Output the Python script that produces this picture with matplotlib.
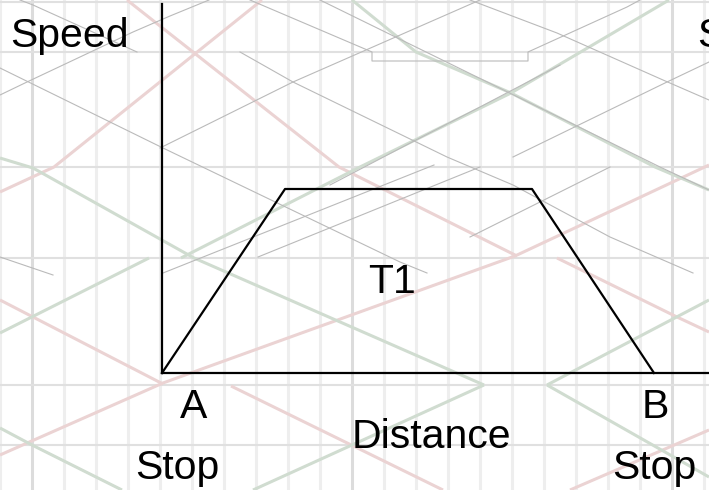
import matplotlib
matplotlib.use("Agg")
from matplotlib import pyplot as plt

# canvas in pixel units
W, H = 709, 490
DPI = 100

# background timetable grid
time_ticks = [0, 32, 64, 96, 128, 160, 192, 224, 256, 288, 320, 352, 384,
              416, 448, 480, 512, 544, 576, 608, 640, 672, 704]
hour_ticks = [32, 352, 672]
stations = [2, 52, 167, 258, 385, 445]

# background train paths: (times, positions)
grey_paths = [
    ([0, 163, 400, 427], [68, 148, 262, 273]),
    ([0, 27, 133, 170, 209], [95, 82, 32, 16, 0]),
    ([20, 33, 137], [0, 5, 52]),
    ([240, 293, 447, 513, 610, 693], [52, 82, 157, 185, 237, 273]),
    ([160, 293, 480], [148, 82, 0]),
    ([250, 372, 372, 528, 528, 627, 640], [0, 52, 61, 61, 52, 7, 0]),
    ([470, 557, 663, 709], [0, 33, 80, 100]),
    ([513, 667, 709], [157, 82, 62]),
    ([0, 53], [257, 275]),
    ([163, 434], [273, 165]),
    ([470, 610], [237, 167]),
    ([258, 480], [257, 167]),
    ([320, 581, 660, 709], [0, 128, 167, 190]),
    ([330, 416, 480, 560], [185, 140, 107, 65]),
]
pink_paths = [
    ([262, 54, 0], [0, 167, 192]),
    ([127, 339, 517], [0, 167, 256]),
    ([557, 677, 709], [258, 317, 332]),
    ([0, 163, 515, 709], [455, 383, 256, 165]),
    ([0, 163], [300, 384]),
    ([231, 443], [386, 490]),
    ([570, 709], [490, 430]),
]
green_paths = [
    ([352, 416, 511, 655, 709], [0, 52, 93, 167, 190]),
    ([0, 33, 194, 484], [158, 168, 258, 385]),
    ([547, 709], [385, 477]),
    ([253, 484], [490, 385]),
    ([547, 709], [385, 300]),
    ([0, 32, 122], [428, 445, 490]),
    ([0, 149], [333, 258]),
    ([181, 360, 511, 669], [258, 167, 93, 0]),
]

# speed profile A -> B
distance = [0, 123, 370, 492]
speed = [0, 184, 184, 0]

FONT = "Liberation Sans"
FS = 29.5

fig = plt.figure(figsize=(W / DPI, H / DPI), dpi=DPI)
fig.patch.set_facecolor("white")

bg = fig.add_axes([0, 0, 1, 1])
bg.set_xlim(0, W)
bg.set_ylim(H, 0)
bg.axis("off")

for t in time_ticks:
    c = "#dcdcdc" if t in hour_ticks else "#eeeeee"
    bg.axvline(t, color=c, lw=2.2, zorder=1)

for xs, ys in pink_paths:
    bg.plot(xs, ys, color="#ebd3d3", lw=2.2, zorder=3, solid_capstyle="butt")
for xs, ys in green_paths:
    bg.plot(xs, ys, color="#d0dcd0", lw=2.2, zorder=3, solid_capstyle="butt")
for xs, ys in grey_paths:
    bg.plot(xs, ys, color="#bababa", lw=0.8, zorder=4)

for s in stations:
    bg.axhline(s, color="#e0e0e0", lw=1.5, zorder=2)

# labels
txt = dict(fontsize=FS, family=FONT, color="black", va="baseline", zorder=10)
bg.text(10, 47, "Speed", ha="left", **txt)
bg.text(697, 47, "Speed", ha="left", **txt)
bg.text(392, 293, "T1", ha="center", **txt)
bg.text(194, 418, "A", ha="center", **txt)
bg.text(655, 418, "B", ha="center", **txt)
bg.text(431, 448, "Distance", ha="center", **txt)
bg.text(177, 479, "Stop", ha="center", **txt)
bg.text(654, 479, "Stop", ha="center", **txt)

# speed-distance diagram
x0, y0, y_top = 162, 373, 4
ax = fig.add_axes([x0 / W, 1 - y0 / H, (W - x0) / W, (y0 - y_top) / H])
ax.set_xlim(0, W - x0)
ax.set_ylim(0, y0 - y_top)
ax.patch.set_alpha(0)
for side in ["top", "right"]:
    ax.spines[side].set_visible(False)
for side in ["left", "bottom"]:
    ax.spines[side].set_linewidth(1.6)
    ax.spines[side].set_color("black")
ax.set_xticks([])
ax.set_yticks([])
ax.plot(distance, speed, color="black", lw=1.6, clip_on=False)

fig.savefig("out.png", dpi=DPI)
